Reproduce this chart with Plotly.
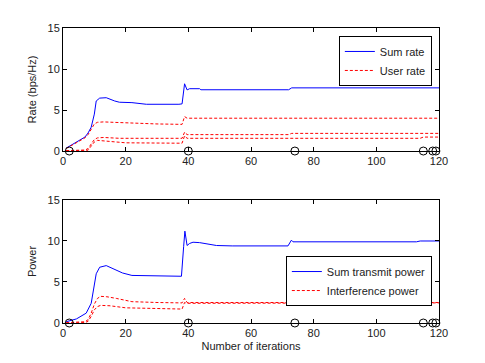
import plotly.graph_objects as go
from plotly.subplots import make_subplots

# ---- Top panel data (iteration, value) ----
sum_rate_iter = [1, 3, 5, 7, 8, 9, 10, 10.6, 11.7, 13.8, 16.5, 18, 22, 26.6, 37, 38, 38.8, 39.6, 40.4, 43.6, 44, 72, 73, 120]
sum_rate = [0.35, 0.8, 1.15, 1.7, 2.2, 2.9, 4.5, 6.1, 6.45, 6.5, 6.1, 5.95, 5.9, 5.7, 5.7, 5.75, 8.2, 7.45, 7.6, 7.6, 7.47, 7.47, 7.7, 7.7]

user_a_iter = [1, 3, 5, 7, 8, 9, 10, 11, 13, 16, 22, 30, 38, 38.8, 39.6, 120]
user_a = [0.3, 0.75, 1.1, 1.6, 2.0, 2.6, 3.3, 3.5, 3.55, 3.5, 3.4, 3.3, 3.25, 4.2, 4.0, 4.0]

user_b_iter = [1, 7, 8, 9, 10, 11, 13, 18, 38, 38.8, 39.6, 72, 73, 120]
user_b = [0.05, 0.1, 0.3, 0.9, 1.4, 1.6, 1.65, 1.55, 1.55, 2.3, 2.0, 2.0, 2.15, 2.15]

user_c_iter = [1, 8, 9, 10, 11, 14, 20, 38, 38.8, 39.6, 114, 115, 120]
user_c = [0.05, 0.1, 0.6, 1.1, 1.3, 1.2, 1.0, 0.95, 1.85, 1.55, 1.55, 1.7, 1.7]

# ---- Bottom panel data ----
sum_power_iter = [1, 4.3, 7.4, 9, 10.6, 11.7, 13.8, 16, 19, 22, 27.7, 37.8, 38.5, 38.9, 39.6, 40.4, 41.5, 43.6, 49, 54, 71.8, 72.9, 73.4, 112.8, 114, 120]
sum_power = [0.15, 0.5, 1.2, 2.4, 6.0, 6.8, 7.0, 6.6, 6.1, 5.8, 5.75, 5.7, 9.3, 11.2, 9.45, 9.7, 9.85, 9.8, 9.45, 9.4, 9.4, 10.1, 9.9, 9.9, 10.0, 10.0]

interf_a_iter = [1, 7, 8, 9, 10, 11, 12, 14, 17, 22, 30, 38, 38.8, 39.6, 120]
interf_a = [0.05, 0.15, 0.4, 1.2, 2.3, 3.0, 3.25, 3.2, 3.0, 2.6, 2.5, 2.45, 3.0, 2.5, 2.5]

interf_b_iter = [1, 7, 8, 9, 10, 11, 12, 15, 20, 30, 38, 38.8, 39.6, 120]
interf_b = [0.0, 0.05, 0.2, 0.8, 1.6, 2.0, 2.15, 2.1, 1.85, 1.75, 1.7, 2.5, 2.4, 2.45]

# ---- Markers at zero ----
marker_iter = [2, 40, 74, 115, 118, 119]
marker_val = [0, 0, 0, 0, 0, 0]

x_ticks = [0, 20, 40, 60, 80, 100, 120]
y_ticks = [0, 5, 10, 15]

BLUE = "#0000ff"
RED = "#ff0000"
DASH = "3px,2px"

fig = make_subplots(rows=2, cols=1, vertical_spacing=0.166)

fig.add_trace(go.Scatter(x=sum_rate_iter, y=sum_rate, mode="lines", name="Sum rate",
                         line=dict(color=BLUE, width=1), legend="legend"), row=1, col=1)
fig.add_trace(go.Scatter(x=user_a_iter, y=user_a, mode="lines", name="User rate",
                         line=dict(color=RED, width=1, dash=DASH), legend="legend"), row=1, col=1)
fig.add_trace(go.Scatter(x=user_b_iter, y=user_b, mode="lines", showlegend=False,
                         line=dict(color=RED, width=1, dash=DASH)), row=1, col=1)
fig.add_trace(go.Scatter(x=user_c_iter, y=user_c, mode="lines", showlegend=False,
                         line=dict(color=RED, width=1, dash=DASH)), row=1, col=1)
fig.add_trace(go.Scatter(x=marker_iter, y=marker_val, mode="markers", showlegend=False,
                         marker=dict(symbol="circle-open", size=8, color="black", line=dict(width=1)),
                         cliponaxis=False), row=1, col=1)

fig.add_trace(go.Scatter(x=sum_power_iter, y=sum_power, mode="lines", name="Sum transmit power",
                         line=dict(color=BLUE, width=1), legend="legend2"), row=2, col=1)
fig.add_trace(go.Scatter(x=interf_a_iter, y=interf_a, mode="lines", name="Interference power",
                         line=dict(color=RED, width=1, dash=DASH), legend="legend2"), row=2, col=1)
fig.add_trace(go.Scatter(x=interf_b_iter, y=interf_b, mode="lines", showlegend=False,
                         line=dict(color=RED, width=1, dash=DASH)), row=2, col=1)
fig.add_trace(go.Scatter(x=marker_iter, y=marker_val, mode="markers", showlegend=False,
                         marker=dict(symbol="circle-open", size=8, color="black", line=dict(width=1)),
                         cliponaxis=False), row=2, col=1)

axis_common = dict(showgrid=False, zeroline=False, showline=True, linecolor="black", linewidth=1,
                   mirror="ticks", ticks="inside", ticklen=4, tickcolor="black", automargin=False,
                   tickfont=dict(size=11, color="#222"))
for r in (1, 2):
    fig.update_xaxes(range=[0, 120], tickvals=x_ticks, row=r, col=1, **axis_common)
    fig.update_yaxes(range=[0, 15], tickvals=y_ticks, row=r, col=1, **axis_common)

fig.update_xaxes(title=dict(text="Number of iterations", font=dict(size=11, color="#222"), standoff=4), row=2, col=1)
fig.update_yaxes(title=dict(text="Rate (bps/Hz)", font=dict(size=11, color="#222"), standoff=8), row=1, col=1)
fig.update_yaxes(title=dict(text="Power", font=dict(size=11, color="#222"), standoff=8), row=2, col=1)

# The page body adds an 8px offset; margins compensate so the axes land where they should.
fig.update_layout(
    width=477, height=355,
    margin=dict(l=55, r=46, t=20, b=40),
    paper_bgcolor="white", plot_bgcolor="white",
    font=dict(family="Liberation Sans, Arial, sans-serif", size=11, color="#222"),
    legend=dict(x=0.981, y=0.973, xanchor="right", yanchor="top", bgcolor="white",
                bordercolor="black", borderwidth=1, font=dict(size=11),
                tracegroupgap=0, itemwidth=30),
    legend2=dict(x=0.981, y=0.227, xanchor="right", yanchor="top", bgcolor="white",
                 bordercolor="black", borderwidth=1, font=dict(size=11),
                 tracegroupgap=0, itemwidth=30),
)

fig.write_html("out.html")
